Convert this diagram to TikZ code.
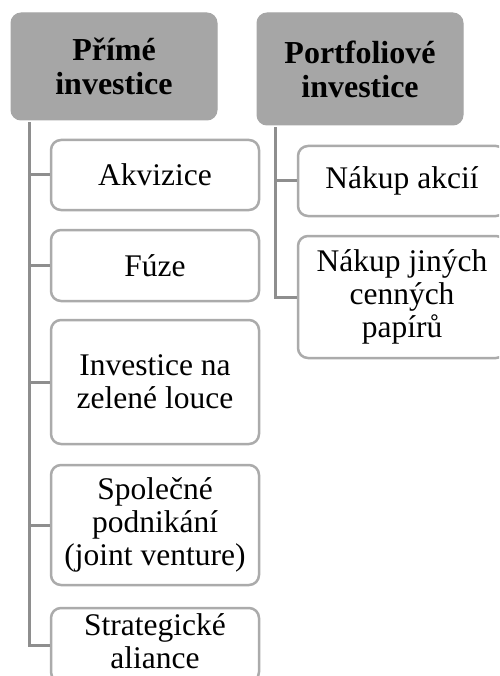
\documentclass[tikz,border=0pt]{standalone}
\usepackage{fontspec}
\setmainfont{Liberation Serif}
\definecolor{hdrfill}{HTML}{A6A6A6}
\definecolor{boxline}{HTML}{ABABAB}
\definecolor{connline}{HTML}{8E8E8E}
\tikzset{
  hdr/.style={draw=hdrfill, fill=hdrfill, rounded corners=10pt, line width=1pt,
    minimum width=206pt, inner sep=0pt, align=center,
    font=\fontsize{32}{34}\selectfont\bfseries},
  child/.style={draw=boxline, fill=white, rounded corners=10pt, line width=2.5pt,
    minimum width=208pt, inner sep=0pt, align=center,
    font=\fontsize{31.5}{33}\selectfont},
  conn/.style={draw=connline, line width=3pt}
}
\begin{document}
\begin{tikzpicture}[x=1pt,y=-1pt]
\path[use as bounding box] (0,0) rectangle (499,676);
\clip (0,0) rectangle (499,676);
% headers
\node[hdr, minimum height=107pt] (h1) at (114,66.5) {Přímé\\investice};
\node[hdr, minimum height=112pt] (h2) at (360,69) {Portfoliové\\investice};
% left children
\node[child, minimum height=70pt] (a1) at (155,175) {Akvizice};
\node[child, minimum height=71pt] (a2) at (155,265.5) {Fúze};
\node[child, minimum height=124pt] (a3) at (155,382) {Investice na\\zelené louce};
\node[child, minimum height=120pt] (a4) at (155,525) {Společné\\podnikání\\(joint venture)};
\node[child, minimum height=74pt] (a5) at (155,645)
  {\raisebox{7pt}{\begin{tabular}{@{}c@{}}Strategické\\aliance\end{tabular}}};
% right children
\node[child, minimum height=70pt] (b1) at (402,181) {Nákup akcií};
\node[child, minimum height=122pt] (b2) at (402,297) {Nákup jiných\\cenných\\papírů};
% connectors
\draw[conn] ([xshift=19pt,yshift=-2pt]h1.south west) |- (a1.west);
\draw[conn] ([xshift=19pt,yshift=-2pt]h1.south west) |- (a2.west);
\draw[conn] ([xshift=19pt,yshift=-2pt]h1.south west) |- (a3.west);
\draw[conn] ([xshift=19pt,yshift=-2pt]h1.south west) |- (a4.west);
\draw[conn] ([xshift=19pt,yshift=-2pt]h1.south west) |- (a5.west);
\draw[conn] ([xshift=19pt,yshift=-2pt]h2.south west) |- (b1.west);
\draw[conn] ([xshift=19pt,yshift=-2pt]h2.south west) |- (b2.west);
\end{tikzpicture}
\end{document}
